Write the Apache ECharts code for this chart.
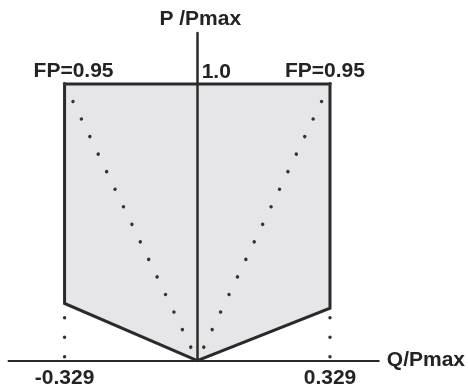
<!DOCTYPE html>
<html>
<head>
<meta charset="utf-8">
<script src="https://cdn.jsdelivr.net/npm/echarts@6/dist/echarts.min.js"></script>
<style>
  html, body { margin: 0; padding: 0; background: #fff; }
  #main { width: 468px; height: 390px; }
</style>
</head>
<body>
<div id="main"></div>
<script>
// operating region, Q/Pmax and P/Pmax (clockwise from top-left)
const regionQ = [-0.329, 0.329, 0.329, 0, -0.329];
const regionP = [1.0, 1.0, 0.19, 0, 0.207];

// x tick labels
const qTicks = [-0.329, 0.329];

// annotations above the top edge
const noteTexts = ["FP=0.95", "1.0", "FP=0.95"];
const noteQ = [-0.329, 0, 0.329];
const noteP = [1.0, 1.0, 1.0];

const font = { fontFamily: "Liberation Sans", fontSize: 21, fontWeight: "bold", color: "#232323" };
const ink = "#2a2a2a";

const chart = echarts.init(document.getElementById("main"));

// dotted guide line style
const dots = (offset) => ({
  color: "#333",
  width: 3.5,
  type: [0.01, 19.45],
  cap: "round",
  dashOffset: offset,
});

const noteOffsets = [[9, -13], [19, -12], [-5, -13]];

const option = {
  animation: false,
  grid: { left: 8.5, right: 88, top: 33, bottom: 29.3 },
  xAxis: {
    type: "value",
    min: -0.468,
    max: 0.45,
    name: "Q/Pmax",
    nameLocation: "end",
    nameGap: 8,
    nameTextStyle: font,
    axisLine: { lineStyle: { color: ink, width: 2 } },
    axisTick: { show: false },
    splitLine: { show: false },
    axisLabel: {
      customValues: qTicks,
      formatter: (v) => v.toFixed(3),
      margin: 7,
      ...font,
    },
  },
  yAxis: {
    type: "value",
    min: 0,
    max: 1.184,
    z: 5,
    name: "P /Pmax",
    nameLocation: "end",
    nameGap: 3,
    nameTextStyle: { ...font, padding: [0, 0, 0, 6] },
    axisLine: { onZero: true, lineStyle: { color: ink, width: 2.5 } },
    axisTick: { show: false },
    axisLabel: { show: false },
    splitLine: { show: false },
  },
  series: [
    {
      type: "custom",
      data: [[0, 0]],
      clip: false,
      z: 2,
      renderItem: (params, api) => {
        const pts = regionQ.map((q, i) => api.coord([q, regionP[i]]));
        return {
          type: "polygon",
          shape: { points: pts },
          style: { fill: "#e6e6e8", stroke: ink, lineWidth: 3, lineJoin: "miter" },
        };
      },
    },
    {
      type: "line",
      z: 3,
      symbol: "none",
      data: [[regionQ[0], regionP[0]], [regionQ[3], regionP[3]]],
      lineStyle: dots(0),
    },
    {
      type: "line",
      z: 3,
      symbol: "none",
      data: [[regionQ[1], regionP[1]], [regionQ[3], regionP[3]]],
      lineStyle: dots(0),
    },
    {
      type: "line",
      z: 3,
      symbol: "none",
      data: [[regionQ[4], 0], [regionQ[4], regionP[4]]],
      lineStyle: dots(15.4),
    },
    {
      type: "line",
      z: 3,
      symbol: "none",
      data: [[regionQ[2], 0], [regionQ[2], regionP[2]]],
      lineStyle: dots(15.4),
    },
    {
      type: "scatter",
      z: 6,
      symbolSize: 1,
      itemStyle: { color: "rgba(0,0,0,0)", opacity: 1 },
      data: noteTexts.map((t, i) => ({
        value: [noteQ[i], noteP[i]],
        label: { offset: noteOffsets[i] },
      })),
      label: {
        show: true,
        position: "inside",
        align: "center",
        verticalAlign: "middle",
        formatter: (p) => noteTexts[p.dataIndex],
        ...font,
      },
    },
  ],
};

chart.setOption(option);
</script>
</body>
</html>
